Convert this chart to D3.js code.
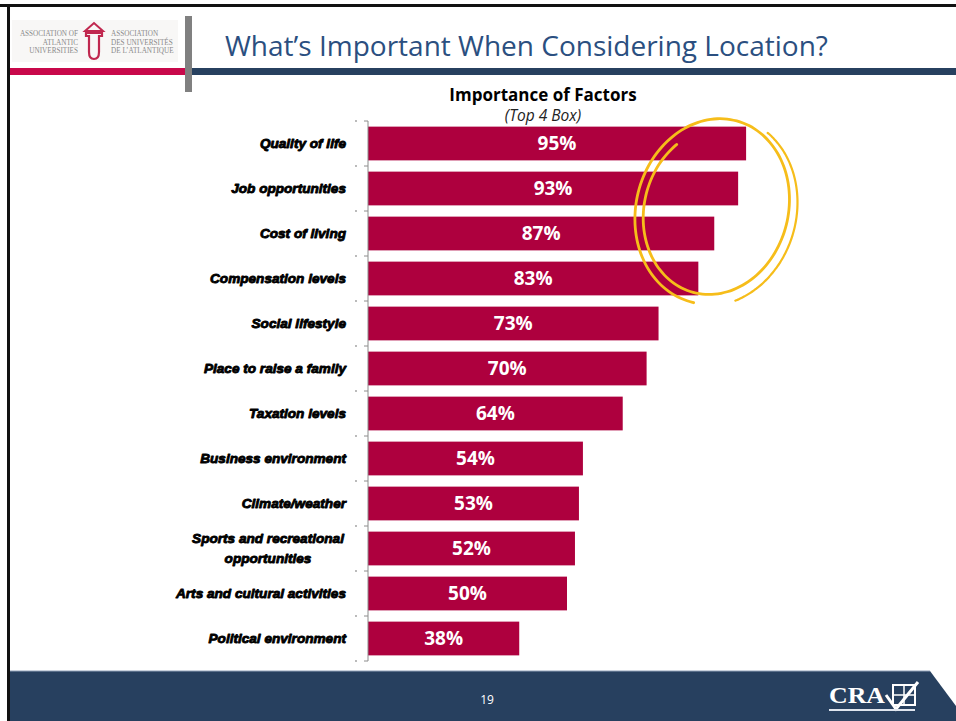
<!DOCTYPE html>
<html>
<head>
<meta charset="utf-8">
<script src="https://cdn.jsdelivr.net/npm/d3@7"></script>
<style>
  html, body { margin: 0; padding: 0; background: #fff; }
  svg { display: block; }
</style>
</head>
<body>
<svg id="slide" width="956" height="721"></svg>
<script>
// Survey factors and the share rating each one important (top 4 box, %)
const factors = [
  "Quality of life",
  "Job opportunities",
  "Cost of living",
  "Compensation levels",
  "Social lifestyle",
  "Place to raise a family",
  "Taxation levels",
  "Business environment",
  "Climate/weather",
  "Sports and recreational|opportunities",
  "Arts and cultural activities",
  "Political environment"
];
const importance = [95, 93, 87, 83, 73, 70, 64, 54, 53, 52, 50, 38];
const highlighted = ["Quality of life", "Job opportunities", "Cost of living", "Compensation levels"];

const slideTitle = "What\u2019s Important When Considering Location?";
const chartTitle = "Importance of Factors";
const chartSubtitle = "(Top 4 Box)";
const pageNumber = "19";

const svg = d3.select("#slide");
const W = 956, H = 721;
const navy = "#27405f", crimson = "#ae003e", headerRed = "#c8084a";

// ---------- slide frame ----------
svg.append("rect").attr("x", 0).attr("y", 0).attr("width", W).attr("height", H).attr("fill", "#fff");
svg.append("rect").attr("x", 0).attr("y", 4).attr("width", W).attr("height", 3).attr("fill", "#111");
svg.append("rect").attr("x", 7).attr("y", 4).attr("width", 3).attr("height", H - 4).attr("fill", "#111");

// header rules
svg.append("rect").attr("x", 10).attr("y", 68).attr("width", 176).attr("height", 7).attr("fill", headerRed);
svg.append("rect").attr("x", 192).attr("y", 68).attr("width", W - 192).attr("height", 7).attr("fill", navy);
svg.append("rect").attr("x", 185).attr("y", 16).attr("width", 7).attr("height", 76).attr("fill", "#808080");

// association logo
const logo = svg.append("g");
logo.append("rect").attr("x", 12).attr("y", 20).attr("width", 166).attr("height", 42).attr("fill", "#f8f7f6");
const leftLines = ["ASSOCIATION OF", "ATLANTIC", "UNIVERSITIES"];
const rightLines = ["ASSOCIATION", "DES UNIVERSIT\u00c9S", "DE L\u2019ATLANTIQUE"];
logo.selectAll("text.l").data(leftLines).join("text")
  .attr("x", 78).attr("y", (d, i) => 36 + i * 8.5)
  .attr("text-anchor", "end")
  .attr("font-family", "Liberation Serif, serif").attr("font-size", 7.2)
  .attr("fill", "#8a8a8a").text(d => d);
logo.selectAll("text.r").data(rightLines).join("text")
  .attr("x", 111).attr("y", (d, i) => 36 + i * 8.5)
  .attr("font-family", "Liberation Serif, serif").attr("font-size", 7.2)
  .attr("fill", "#8a8a8a").text(d => d);
// arch emblem
logo.append("path")
  .attr("d", "M85,31 L94,23 L103,31 Z")
  .attr("fill", "none").attr("stroke", "#c0284f").attr("stroke-width", 2);
logo.append("path")
  .attr("d", "M86,33 L102,33 L102,36 L99,36 L99,52 Q99,59 94,59 Q89,59 89,52 L89,36 L86,36 Z")
  .attr("fill", "none").attr("stroke", "#c0284f").attr("stroke-width", 2.2);

// slide title
svg.append("text")
  .attr("x", 225).attr("y", 56)
  .attr("font-family", "Open Sans, sans-serif").attr("font-size", 28)
  .attr("fill", "#2b4f80")
  .text(slideTitle);

// ---------- footer ----------
svg.append("path")
  .attr("d", `M10,671 L930,671 L956,706 L956,${H} L10,${H} Z`)
  .attr("fill", navy);
svg.append("line").attr("x1", 10).attr("x2", 930).attr("y1", 671).attr("y2", 671)
  .attr("stroke", "#8fa0b8").attr("stroke-width", 1);
svg.append("text")
  .attr("x", 487).attr("y", 704).attr("text-anchor", "middle")
  .attr("font-family", "Open Sans, sans-serif").attr("font-size", 12)
  .attr("fill", "#fff").text(pageNumber);
// CRA mark
const cra = svg.append("g");
cra.append("text")
  .attr("x", 829).attr("y", 703)
  .attr("font-family", "Liberation Serif, serif").attr("font-size", 24).attr("font-weight", "bold")
  .attr("textLength", 56).attr("lengthAdjust", "spacingAndGlyphs")
  .attr("fill", "#fff").text("CRA");
cra.append("rect").attr("x", 893).attr("y", 685).attr("width", 22).attr("height", 20)
  .attr("fill", "none").attr("stroke", "#fff").attr("stroke-width", 2);
cra.append("path").attr("d", "M893,695 L915,695 M904,685 L904,705")
  .attr("fill", "none").attr("stroke", "#fff").attr("stroke-width", 1.5);
cra.append("path").attr("d", "M886,695 L896,709 L918,682")
  .attr("fill", "none").attr("stroke", "#fff").attr("stroke-width", 3);
cra.append("rect").attr("x", 829).attr("y", 709).attr("width", 86).attr("height", 2).attr("fill", "#dfe5ee");

// ---------- chart ----------
const x = d3.scaleLinear().domain([0, 100]).range([368, 766]);
const y = d3.scaleBand().domain(factors).range([121, 661])
  .paddingInner(0.25).paddingOuter(0.125);

svg.append("text")
  .attr("x", 543).attr("y", 101).attr("text-anchor", "middle")
  .attr("font-family", "Open Sans, sans-serif").attr("font-size", 17).attr("font-weight", "bold")
  .attr("fill", "#000").text(chartTitle);
svg.append("text")
  .attr("x", 543).attr("y", 121).attr("text-anchor", "middle")
  .attr("font-family", "Open Sans, sans-serif").attr("font-size", 15.5).attr("font-style", "italic")
  .attr("fill", "#222").text(chartSubtitle);

// bars
svg.append("g").selectAll("rect").data(factors).join("rect")
  .attr("x", x(0))
  .attr("y", d => y(d))
  .attr("width", (d, i) => x(importance[i]) - x(0))
  .attr("height", y.bandwidth())
  .attr("fill", crimson);

// value labels inside the bars
svg.append("g").selectAll("text").data(factors).join("text")
  .attr("x", (d, i) => (x(0) + x(importance[i])) / 2)
  .attr("y", d => y(d) + y.bandwidth() / 2)
  .attr("dy", "0.36em")
  .attr("text-anchor", "middle")
  .attr("font-family", "Open Sans, sans-serif").attr("font-size", 19).attr("font-weight", "bold")
  .attr("fill", "#fff")
  .text((d, i) => importance[i] + "%");

// category axis with ticks between categories
const axisG = svg.append("g");
const boundaries = factors.map(d => y(d) - y.step() * y.paddingInner() / 2).concat([y.range()[1]]);
axisG.append("line")
  .attr("x1", x(0)).attr("x2", x(0))
  .attr("y1", y.range()[0]).attr("y2", y.range()[1])
  .attr("stroke", "#8c8c8c").attr("stroke-width", 1);
axisG.selectAll("line.tick").data(boundaries).join("line")
  .attr("class", "tick")
  .attr("x1", x(0) - 4).attr("x2", x(0))
  .attr("y1", d => d).attr("y2", d => d)
  .attr("stroke", "#8c8c8c").attr("stroke-width", 1);
axisG.selectAll("circle").data(boundaries).join("circle")
  .attr("cx", x(0) - 12).attr("cy", d => d)
  .attr("r", 0.9).attr("fill", "#9a9a9a");

// category labels
const labelG = svg.append("g")
  .attr("font-family", "Liberation Sans, Arial, sans-serif")
  .attr("font-size", 13.6).attr("font-weight", "bold").attr("font-style", "italic")
  .attr("fill", "#000");
factors.forEach(f => {
  const lines = f.split("|");
  const cy = y(f) + y.bandwidth() / 2;
  const lh = 20;
  const t = labelG.append("text")
    .attr("text-anchor", lines.length > 1 ? "middle" : "end")
    .attr("stroke", "#000").attr("stroke-width", 0.9).attr("stroke-linejoin", "round");
  lines.forEach((ln, i) => {
    t.append("tspan")
      .attr("x", lines.length > 1 ? 268 : 346)
      .attr("y", cy + (i - (lines.length - 1) / 2) * lh)
      .attr("dy", "0.35em")
      .text(ln);
  });
});

// hand-drawn highlight loop around the top four results
const topFour = highlighted;
const cx = x(87);
const cyMid = (y(topFour[0]) + y(topFour[topFour.length - 1]) + y.bandwidth()) / 2 - 2;
// each stroke: radii, tilt (deg), offsets, start angle, sweep (radians), spiral scale
const loops = [
  { rx: 80, ry: 96, rot: 15, dx: 0, dy: 0, a0: -2.45, sweep: -8.6, s0: 0.86, grow: 0.14, w: 2.8 },
  { rx: 82, ry: 97, rot: 16, dx: 1, dy: 1, a0: -1.2, sweep: 2.2, s0: 0.98, grow: 0.02, w: 2.2 }
];
const hl = svg.append("g").attr("fill", "none").attr("stroke", "#f6bd1a")
  .attr("stroke-linecap", "round");
loops.forEach(l => {
  const r = l.rot * Math.PI / 180;
  const pts = d3.range(0, 1.0001, 0.01).map(t => {
    const a = l.a0 + t * l.sweep;
    // the stroke widens as it goes round so it does not close on itself
    const s = l.s0 + l.grow * t;
    const ex = l.rx * s * Math.cos(a), ey = l.ry * s * Math.sin(a);
    return [cx + l.dx + ex * Math.cos(r) - ey * Math.sin(r),
            cyMid + l.dy + ex * Math.sin(r) + ey * Math.cos(r)];
  });
  hl.append("path").attr("d", d3.line().curve(d3.curveBasis)(pts))
    .attr("stroke-width", l.w);
});
</script>
</body>
</html>
